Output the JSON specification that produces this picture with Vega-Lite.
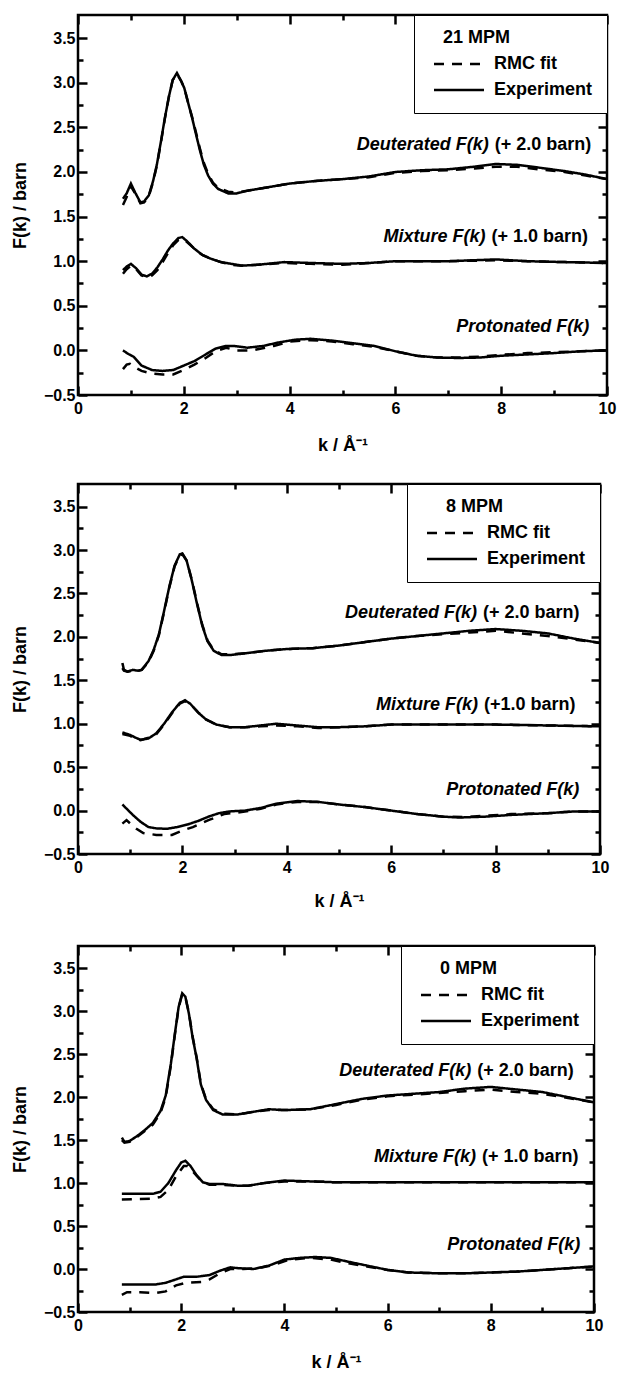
{
"$schema":"https://vega.github.io/schema/vega-lite/v6.json",
"padding":{"left":10,"top":12,"right":9,"bottom":0},
"config":{
 "font":"Liberation Sans",
 "view":{"stroke":"black","strokeWidth":2.5},
 "axis":{"labelFont":"Liberation Sans","labelFontWeight":"bold","labelFontSize":16,"labelColor":"black","titleFont":"Liberation Sans","titleFontWeight":"bold","titleFontSize":18,"titleColor":"black","grid":false,"domain":false,"tickColor":"black","tickWidth":2.5,"labelFlush":false,"labelOverlap":false},
 "legend":{"orient":"top-right","offset":0,"strokeColor":"black","fillColor":"white","padding":14,"titleFont":"Liberation Sans","titleFontSize":18,"titleFontWeight":"bold","titleColor":"black","titleAnchor":"middle","titleAlign":"right","titlePadding":8,"labelFont":"Liberation Sans","labelFontSize":18,"labelFontWeight":"bold","labelColor":"black","symbolType":"M-0.6,0H9.4","symbolStrokeWidth":2.5,"symbolSize":100,"symbolStrokeColor":"black","rowPadding":8,"labelOffset":48,"labelLimit":300,"titleLimit":300},
 "line":{"color":"black","strokeWidth":2.5},
 "text":{"font":"Liberation Sans","fontWeight":"bold","fontSize":18,"color":"black"}
},
"datasets":{
"labels":[
{"p":21,"k":7.82,"F":2.30,"it":"Deuterated F(k)","up":"(+ 2.0 barn)"},
{"p":21,"k":7.76,"F":1.27,"it":"Mixture F(k)","up":"(+ 1.0 barn)"},
{"p":21,"k":9.72,"F":0.26,"it":"Protonated F(k)","up":""},
{"p":8,"k":7.70,"F":2.28,"it":"Deuterated F(k)","up":"(+ 2.0 barn)"},
{"p":8,"k":7.72,"F":1.22,"it":"Mixture F(k)","up":"(+1.0 barn)"},
{"p":8,"k":9.66,"F":0.24,"it":"Protonated F(k)","up":""},
{"p":0,"k":7.68,"F":2.31,"it":"Deuterated F(k)","up":"(+ 2.0 barn)"},
{"p":0,"k":7.77,"F":1.30,"it":"Mixture F(k)","up":"(+ 1.0 barn)"},
{"p":0,"k":9.79,"F":0.28,"it":"Protonated F(k)","up":""}
],
"curves":[
{"p":21,"s":"D","t":"Experiment","k":0.85,"F":1.70},{"p":21,"s":"D","t":"Experiment","k":0.92,"F":1.76},{"p":21,"s":"D","t":"Experiment","k":1.00,"F":1.87},{"p":21,"s":"D","t":"Experiment","k":1.08,"F":1.77},{"p":21,"s":"D","t":"Experiment","k":1.18,"F":1.66},{"p":21,"s":"D","t":"Experiment","k":1.25,"F":1.67},{"p":21,"s":"D","t":"Experiment","k":1.34,"F":1.74},{"p":21,"s":"D","t":"Experiment","k":1.42,"F":1.90},{"p":21,"s":"D","t":"Experiment","k":1.49,"F":2.08},{"p":21,"s":"D","t":"Experiment","k":1.57,"F":2.35},{"p":21,"s":"D","t":"Experiment","k":1.64,"F":2.60},{"p":21,"s":"D","t":"Experiment","k":1.72,"F":2.85},{"p":21,"s":"D","t":"Experiment","k":1.79,"F":3.03},{"p":21,"s":"D","t":"Experiment","k":1.87,"F":3.11},{"p":21,"s":"D","t":"Experiment","k":1.95,"F":3.02},{"p":21,"s":"D","t":"Experiment","k":2.01,"F":2.94},{"p":21,"s":"D","t":"Experiment","k":2.08,"F":2.78},{"p":21,"s":"D","t":"Experiment","k":2.16,"F":2.60},{"p":21,"s":"D","t":"Experiment","k":2.24,"F":2.40},{"p":21,"s":"D","t":"Experiment","k":2.31,"F":2.23},{"p":21,"s":"D","t":"Experiment","k":2.38,"F":2.08},{"p":21,"s":"D","t":"Experiment","k":2.46,"F":1.96},{"p":21,"s":"D","t":"Experiment","k":2.55,"F":1.87},{"p":21,"s":"D","t":"Experiment","k":2.65,"F":1.81},{"p":21,"s":"D","t":"Experiment","k":2.84,"F":1.76},{"p":21,"s":"D","t":"Experiment","k":3.00,"F":1.76},{"p":21,"s":"D","t":"Experiment","k":3.20,"F":1.79},{"p":21,"s":"D","t":"Experiment","k":3.60,"F":1.83},{"p":21,"s":"D","t":"Experiment","k":4.00,"F":1.87},{"p":21,"s":"D","t":"Experiment","k":4.50,"F":1.90},{"p":21,"s":"D","t":"Experiment","k":5.00,"F":1.92},{"p":21,"s":"D","t":"Experiment","k":5.50,"F":1.95},{"p":21,"s":"D","t":"Experiment","k":6.00,"F":2.00},{"p":21,"s":"D","t":"Experiment","k":6.50,"F":2.02},{"p":21,"s":"D","t":"Experiment","k":7.00,"F":2.03},{"p":21,"s":"D","t":"Experiment","k":7.50,"F":2.06},{"p":21,"s":"D","t":"Experiment","k":7.90,"F":2.09},{"p":21,"s":"D","t":"Experiment","k":8.30,"F":2.08},{"p":21,"s":"D","t":"Experiment","k":8.70,"F":2.05},{"p":21,"s":"D","t":"Experiment","k":9.20,"F":2.01},{"p":21,"s":"D","t":"Experiment","k":9.60,"F":1.97},{"p":21,"s":"D","t":"Experiment","k":10.00,"F":1.92},
{"p":21,"s":"D","t":"RMC fit","k":0.85,"F":1.63},{"p":21,"s":"D","t":"RMC fit","k":0.92,"F":1.72},{"p":21,"s":"D","t":"RMC fit","k":1.00,"F":1.84},{"p":21,"s":"D","t":"RMC fit","k":1.08,"F":1.76},{"p":21,"s":"D","t":"RMC fit","k":1.18,"F":1.65},{"p":21,"s":"D","t":"RMC fit","k":1.25,"F":1.66},{"p":21,"s":"D","t":"RMC fit","k":1.34,"F":1.73},{"p":21,"s":"D","t":"RMC fit","k":1.42,"F":1.89},{"p":21,"s":"D","t":"RMC fit","k":1.49,"F":2.07},{"p":21,"s":"D","t":"RMC fit","k":1.57,"F":2.34},{"p":21,"s":"D","t":"RMC fit","k":1.64,"F":2.59},{"p":21,"s":"D","t":"RMC fit","k":1.72,"F":2.85},{"p":21,"s":"D","t":"RMC fit","k":1.79,"F":3.03},{"p":21,"s":"D","t":"RMC fit","k":1.87,"F":3.10},{"p":21,"s":"D","t":"RMC fit","k":1.95,"F":3.02},{"p":21,"s":"D","t":"RMC fit","k":2.01,"F":2.94},{"p":21,"s":"D","t":"RMC fit","k":2.08,"F":2.78},{"p":21,"s":"D","t":"RMC fit","k":2.16,"F":2.61},{"p":21,"s":"D","t":"RMC fit","k":2.24,"F":2.42},{"p":21,"s":"D","t":"RMC fit","k":2.31,"F":2.25},{"p":21,"s":"D","t":"RMC fit","k":2.38,"F":2.10},{"p":21,"s":"D","t":"RMC fit","k":2.46,"F":1.98},{"p":21,"s":"D","t":"RMC fit","k":2.55,"F":1.88},{"p":21,"s":"D","t":"RMC fit","k":2.65,"F":1.82},{"p":21,"s":"D","t":"RMC fit","k":2.84,"F":1.78},{"p":21,"s":"D","t":"RMC fit","k":3.00,"F":1.77},{"p":21,"s":"D","t":"RMC fit","k":3.20,"F":1.79},{"p":21,"s":"D","t":"RMC fit","k":3.60,"F":1.83},{"p":21,"s":"D","t":"RMC fit","k":4.00,"F":1.87},{"p":21,"s":"D","t":"RMC fit","k":4.50,"F":1.90},{"p":21,"s":"D","t":"RMC fit","k":5.00,"F":1.92},{"p":21,"s":"D","t":"RMC fit","k":5.50,"F":1.94},{"p":21,"s":"D","t":"RMC fit","k":6.00,"F":1.99},{"p":21,"s":"D","t":"RMC fit","k":6.50,"F":2.01},{"p":21,"s":"D","t":"RMC fit","k":7.00,"F":2.02},{"p":21,"s":"D","t":"RMC fit","k":7.50,"F":2.04},{"p":21,"s":"D","t":"RMC fit","k":7.90,"F":2.06},{"p":21,"s":"D","t":"RMC fit","k":8.30,"F":2.06},{"p":21,"s":"D","t":"RMC fit","k":8.70,"F":2.03},{"p":21,"s":"D","t":"RMC fit","k":9.20,"F":2.00},{"p":21,"s":"D","t":"RMC fit","k":9.60,"F":1.96},{"p":21,"s":"D","t":"RMC fit","k":10.00,"F":1.92},
{"p":21,"s":"M","t":"Experiment","k":0.85,"F":0.90},{"p":21,"s":"M","t":"Experiment","k":0.92,"F":0.94},{"p":21,"s":"M","t":"Experiment","k":1.00,"F":0.97},{"p":21,"s":"M","t":"Experiment","k":1.10,"F":0.92},{"p":21,"s":"M","t":"Experiment","k":1.20,"F":0.85},{"p":21,"s":"M","t":"Experiment","k":1.30,"F":0.83},{"p":21,"s":"M","t":"Experiment","k":1.40,"F":0.86},{"p":21,"s":"M","t":"Experiment","k":1.50,"F":0.93},{"p":21,"s":"M","t":"Experiment","k":1.60,"F":1.02},{"p":21,"s":"M","t":"Experiment","k":1.70,"F":1.12},{"p":21,"s":"M","t":"Experiment","k":1.80,"F":1.20},{"p":21,"s":"M","t":"Experiment","k":1.90,"F":1.26},{"p":21,"s":"M","t":"Experiment","k":1.97,"F":1.27},{"p":21,"s":"M","t":"Experiment","k":2.05,"F":1.23},{"p":21,"s":"M","t":"Experiment","k":2.20,"F":1.14},{"p":21,"s":"M","t":"Experiment","k":2.35,"F":1.07},{"p":21,"s":"M","t":"Experiment","k":2.50,"F":1.03},{"p":21,"s":"M","t":"Experiment","k":2.70,"F":0.99},{"p":21,"s":"M","t":"Experiment","k":2.90,"F":0.97},{"p":21,"s":"M","t":"Experiment","k":3.10,"F":0.95},{"p":21,"s":"M","t":"Experiment","k":3.40,"F":0.96},{"p":21,"s":"M","t":"Experiment","k":3.90,"F":0.99},{"p":21,"s":"M","t":"Experiment","k":4.40,"F":0.98},{"p":21,"s":"M","t":"Experiment","k":5.00,"F":0.97},{"p":21,"s":"M","t":"Experiment","k":5.50,"F":0.98},{"p":21,"s":"M","t":"Experiment","k":6.00,"F":1.00},{"p":21,"s":"M","t":"Experiment","k":7.00,"F":1.00},{"p":21,"s":"M","t":"Experiment","k":7.90,"F":1.02},{"p":21,"s":"M","t":"Experiment","k":8.50,"F":1.00},{"p":21,"s":"M","t":"Experiment","k":9.20,"F":0.99},{"p":21,"s":"M","t":"Experiment","k":10.00,"F":0.98},
{"p":21,"s":"M","t":"RMC fit","k":0.85,"F":0.86},{"p":21,"s":"M","t":"RMC fit","k":0.92,"F":0.91},{"p":21,"s":"M","t":"RMC fit","k":1.00,"F":0.95},{"p":21,"s":"M","t":"RMC fit","k":1.10,"F":0.91},{"p":21,"s":"M","t":"RMC fit","k":1.20,"F":0.84},{"p":21,"s":"M","t":"RMC fit","k":1.30,"F":0.82},{"p":21,"s":"M","t":"RMC fit","k":1.40,"F":0.84},{"p":21,"s":"M","t":"RMC fit","k":1.50,"F":0.90},{"p":21,"s":"M","t":"RMC fit","k":1.60,"F":0.99},{"p":21,"s":"M","t":"RMC fit","k":1.70,"F":1.09},{"p":21,"s":"M","t":"RMC fit","k":1.80,"F":1.18},{"p":21,"s":"M","t":"RMC fit","k":1.90,"F":1.24},{"p":21,"s":"M","t":"RMC fit","k":1.97,"F":1.25},{"p":21,"s":"M","t":"RMC fit","k":2.05,"F":1.22},{"p":21,"s":"M","t":"RMC fit","k":2.20,"F":1.14},{"p":21,"s":"M","t":"RMC fit","k":2.35,"F":1.07},{"p":21,"s":"M","t":"RMC fit","k":2.50,"F":1.03},{"p":21,"s":"M","t":"RMC fit","k":2.70,"F":0.99},{"p":21,"s":"M","t":"RMC fit","k":2.90,"F":0.96},{"p":21,"s":"M","t":"RMC fit","k":3.10,"F":0.95},{"p":21,"s":"M","t":"RMC fit","k":3.40,"F":0.96},{"p":21,"s":"M","t":"RMC fit","k":3.90,"F":0.98},{"p":21,"s":"M","t":"RMC fit","k":4.40,"F":0.97},{"p":21,"s":"M","t":"RMC fit","k":5.00,"F":0.96},{"p":21,"s":"M","t":"RMC fit","k":5.50,"F":0.98},{"p":21,"s":"M","t":"RMC fit","k":6.00,"F":1.00},{"p":21,"s":"M","t":"RMC fit","k":7.00,"F":1.00},{"p":21,"s":"M","t":"RMC fit","k":7.90,"F":1.01},{"p":21,"s":"M","t":"RMC fit","k":8.50,"F":1.00},{"p":21,"s":"M","t":"RMC fit","k":9.20,"F":0.99},{"p":21,"s":"M","t":"RMC fit","k":10.00,"F":0.98},
{"p":21,"s":"P","t":"Experiment","k":0.85,"F":0.00},{"p":21,"s":"P","t":"Experiment","k":0.95,"F":-0.04},{"p":21,"s":"P","t":"Experiment","k":1.05,"F":-0.07},{"p":21,"s":"P","t":"Experiment","k":1.20,"F":-0.17},{"p":21,"s":"P","t":"Experiment","k":1.40,"F":-0.22},{"p":21,"s":"P","t":"Experiment","k":1.60,"F":-0.23},{"p":21,"s":"P","t":"Experiment","k":1.80,"F":-0.22},{"p":21,"s":"P","t":"Experiment","k":2.00,"F":-0.17},{"p":21,"s":"P","t":"Experiment","k":2.20,"F":-0.12},{"p":21,"s":"P","t":"Experiment","k":2.40,"F":-0.05},{"p":21,"s":"P","t":"Experiment","k":2.60,"F":0.02},{"p":21,"s":"P","t":"Experiment","k":2.80,"F":0.05},{"p":21,"s":"P","t":"Experiment","k":2.95,"F":0.05},{"p":21,"s":"P","t":"Experiment","k":3.20,"F":0.03},{"p":21,"s":"P","t":"Experiment","k":3.50,"F":0.05},{"p":21,"s":"P","t":"Experiment","k":3.80,"F":0.09},{"p":21,"s":"P","t":"Experiment","k":4.10,"F":0.12},{"p":21,"s":"P","t":"Experiment","k":4.40,"F":0.13},{"p":21,"s":"P","t":"Experiment","k":4.80,"F":0.11},{"p":21,"s":"P","t":"Experiment","k":5.20,"F":0.08},{"p":21,"s":"P","t":"Experiment","k":5.60,"F":0.05},{"p":21,"s":"P","t":"Experiment","k":6.00,"F":-0.01},{"p":21,"s":"P","t":"Experiment","k":6.40,"F":-0.06},{"p":21,"s":"P","t":"Experiment","k":6.80,"F":-0.08},{"p":21,"s":"P","t":"Experiment","k":7.20,"F":-0.085},{"p":21,"s":"P","t":"Experiment","k":7.60,"F":-0.08},{"p":21,"s":"P","t":"Experiment","k":8.00,"F":-0.06},{"p":21,"s":"P","t":"Experiment","k":8.50,"F":-0.045},{"p":21,"s":"P","t":"Experiment","k":9.00,"F":-0.03},{"p":21,"s":"P","t":"Experiment","k":9.50,"F":-0.01},{"p":21,"s":"P","t":"Experiment","k":10.00,"F":0.00},
{"p":21,"s":"P","t":"RMC fit","k":0.85,"F":-0.21},{"p":21,"s":"P","t":"RMC fit","k":0.92,"F":-0.16},{"p":21,"s":"P","t":"RMC fit","k":0.98,"F":-0.15},{"p":21,"s":"P","t":"RMC fit","k":1.05,"F":-0.18},{"p":21,"s":"P","t":"RMC fit","k":1.20,"F":-0.23},{"p":21,"s":"P","t":"RMC fit","k":1.40,"F":-0.26},{"p":21,"s":"P","t":"RMC fit","k":1.60,"F":-0.27},{"p":21,"s":"P","t":"RMC fit","k":1.80,"F":-0.27},{"p":21,"s":"P","t":"RMC fit","k":2.00,"F":-0.22},{"p":21,"s":"P","t":"RMC fit","k":2.20,"F":-0.16},{"p":21,"s":"P","t":"RMC fit","k":2.40,"F":-0.09},{"p":21,"s":"P","t":"RMC fit","k":2.60,"F":-0.01},{"p":21,"s":"P","t":"RMC fit","k":2.80,"F":0.03},{"p":21,"s":"P","t":"RMC fit","k":3.00,"F":0.00},{"p":21,"s":"P","t":"RMC fit","k":3.30,"F":0.00},{"p":21,"s":"P","t":"RMC fit","k":3.70,"F":0.05},{"p":21,"s":"P","t":"RMC fit","k":4.00,"F":0.10},{"p":21,"s":"P","t":"RMC fit","k":4.40,"F":0.115},{"p":21,"s":"P","t":"RMC fit","k":4.80,"F":0.10},{"p":21,"s":"P","t":"RMC fit","k":5.20,"F":0.07},{"p":21,"s":"P","t":"RMC fit","k":5.60,"F":0.04},{"p":21,"s":"P","t":"RMC fit","k":6.00,"F":-0.01},{"p":21,"s":"P","t":"RMC fit","k":6.40,"F":-0.06},{"p":21,"s":"P","t":"RMC fit","k":6.80,"F":-0.08},{"p":21,"s":"P","t":"RMC fit","k":7.20,"F":-0.08},{"p":21,"s":"P","t":"RMC fit","k":7.60,"F":-0.07},{"p":21,"s":"P","t":"RMC fit","k":8.00,"F":-0.05},{"p":21,"s":"P","t":"RMC fit","k":8.50,"F":-0.03},{"p":21,"s":"P","t":"RMC fit","k":9.00,"F":-0.02},{"p":21,"s":"P","t":"RMC fit","k":9.50,"F":-0.01},{"p":21,"s":"P","t":"RMC fit","k":10.00,"F":0.00},
{"p":8,"s":"D","t":"Experiment","k":0.85,"F":1.70},{"p":8,"s":"D","t":"Experiment","k":0.88,"F":1.62},{"p":8,"s":"D","t":"Experiment","k":0.95,"F":1.60},{"p":8,"s":"D","t":"Experiment","k":1.05,"F":1.62},{"p":8,"s":"D","t":"Experiment","k":1.15,"F":1.61},{"p":8,"s":"D","t":"Experiment","k":1.22,"F":1.62},{"p":8,"s":"D","t":"Experiment","k":1.35,"F":1.72},{"p":8,"s":"D","t":"Experiment","k":1.45,"F":1.85},{"p":8,"s":"D","t":"Experiment","k":1.55,"F":2.03},{"p":8,"s":"D","t":"Experiment","k":1.65,"F":2.30},{"p":8,"s":"D","t":"Experiment","k":1.75,"F":2.58},{"p":8,"s":"D","t":"Experiment","k":1.85,"F":2.82},{"p":8,"s":"D","t":"Experiment","k":1.95,"F":2.95},{"p":8,"s":"D","t":"Experiment","k":2.00,"F":2.96},{"p":8,"s":"D","t":"Experiment","k":2.08,"F":2.88},{"p":8,"s":"D","t":"Experiment","k":2.18,"F":2.65},{"p":8,"s":"D","t":"Experiment","k":2.28,"F":2.38},{"p":8,"s":"D","t":"Experiment","k":2.38,"F":2.13},{"p":8,"s":"D","t":"Experiment","k":2.48,"F":1.95},{"p":8,"s":"D","t":"Experiment","k":2.60,"F":1.84},{"p":8,"s":"D","t":"Experiment","k":2.75,"F":1.79},{"p":8,"s":"D","t":"Experiment","k":2.90,"F":1.79},{"p":8,"s":"D","t":"Experiment","k":3.20,"F":1.81},{"p":8,"s":"D","t":"Experiment","k":3.60,"F":1.84},{"p":8,"s":"D","t":"Experiment","k":4.00,"F":1.86},{"p":8,"s":"D","t":"Experiment","k":4.50,"F":1.87},{"p":8,"s":"D","t":"Experiment","k":5.00,"F":1.90},{"p":8,"s":"D","t":"Experiment","k":5.50,"F":1.94},{"p":8,"s":"D","t":"Experiment","k":6.00,"F":1.98},{"p":8,"s":"D","t":"Experiment","k":6.50,"F":2.01},{"p":8,"s":"D","t":"Experiment","k":7.00,"F":2.04},{"p":8,"s":"D","t":"Experiment","k":7.50,"F":2.07},{"p":8,"s":"D","t":"Experiment","k":8.00,"F":2.09},{"p":8,"s":"D","t":"Experiment","k":8.50,"F":2.07},{"p":8,"s":"D","t":"Experiment","k":9.00,"F":2.04},{"p":8,"s":"D","t":"Experiment","k":9.50,"F":1.98},{"p":8,"s":"D","t":"Experiment","k":10.00,"F":1.93},
{"p":8,"s":"D","t":"RMC fit","k":0.85,"F":1.64},{"p":8,"s":"D","t":"RMC fit","k":0.88,"F":1.61},{"p":8,"s":"D","t":"RMC fit","k":0.95,"F":1.60},{"p":8,"s":"D","t":"RMC fit","k":1.05,"F":1.61},{"p":8,"s":"D","t":"RMC fit","k":1.15,"F":1.61},{"p":8,"s":"D","t":"RMC fit","k":1.22,"F":1.62},{"p":8,"s":"D","t":"RMC fit","k":1.35,"F":1.71},{"p":8,"s":"D","t":"RMC fit","k":1.45,"F":1.84},{"p":8,"s":"D","t":"RMC fit","k":1.55,"F":2.02},{"p":8,"s":"D","t":"RMC fit","k":1.65,"F":2.29},{"p":8,"s":"D","t":"RMC fit","k":1.75,"F":2.57},{"p":8,"s":"D","t":"RMC fit","k":1.85,"F":2.81},{"p":8,"s":"D","t":"RMC fit","k":1.95,"F":2.94},{"p":8,"s":"D","t":"RMC fit","k":2.00,"F":2.95},{"p":8,"s":"D","t":"RMC fit","k":2.08,"F":2.88},{"p":8,"s":"D","t":"RMC fit","k":2.18,"F":2.66},{"p":8,"s":"D","t":"RMC fit","k":2.28,"F":2.39},{"p":8,"s":"D","t":"RMC fit","k":2.38,"F":2.14},{"p":8,"s":"D","t":"RMC fit","k":2.48,"F":1.96},{"p":8,"s":"D","t":"RMC fit","k":2.60,"F":1.85},{"p":8,"s":"D","t":"RMC fit","k":2.75,"F":1.80},{"p":8,"s":"D","t":"RMC fit","k":2.90,"F":1.80},{"p":8,"s":"D","t":"RMC fit","k":3.20,"F":1.81},{"p":8,"s":"D","t":"RMC fit","k":3.60,"F":1.84},{"p":8,"s":"D","t":"RMC fit","k":4.00,"F":1.86},{"p":8,"s":"D","t":"RMC fit","k":4.50,"F":1.87},{"p":8,"s":"D","t":"RMC fit","k":5.00,"F":1.90},{"p":8,"s":"D","t":"RMC fit","k":5.50,"F":1.94},{"p":8,"s":"D","t":"RMC fit","k":6.00,"F":1.98},{"p":8,"s":"D","t":"RMC fit","k":6.50,"F":2.01},{"p":8,"s":"D","t":"RMC fit","k":7.00,"F":2.03},{"p":8,"s":"D","t":"RMC fit","k":7.50,"F":2.05},{"p":8,"s":"D","t":"RMC fit","k":8.00,"F":2.07},{"p":8,"s":"D","t":"RMC fit","k":8.50,"F":2.04},{"p":8,"s":"D","t":"RMC fit","k":9.00,"F":2.01},{"p":8,"s":"D","t":"RMC fit","k":9.50,"F":1.97},{"p":8,"s":"D","t":"RMC fit","k":10.00,"F":1.93},
{"p":8,"s":"M","t":"Experiment","k":0.85,"F":0.90},{"p":8,"s":"M","t":"Experiment","k":1.00,"F":0.87},{"p":8,"s":"M","t":"Experiment","k":1.10,"F":0.84},{"p":8,"s":"M","t":"Experiment","k":1.20,"F":0.815},{"p":8,"s":"M","t":"Experiment","k":1.35,"F":0.83},{"p":8,"s":"M","t":"Experiment","k":1.50,"F":0.89},{"p":8,"s":"M","t":"Experiment","k":1.65,"F":1.00},{"p":8,"s":"M","t":"Experiment","k":1.80,"F":1.13},{"p":8,"s":"M","t":"Experiment","k":1.95,"F":1.24},{"p":8,"s":"M","t":"Experiment","k":2.05,"F":1.27},{"p":8,"s":"M","t":"Experiment","k":2.15,"F":1.23},{"p":8,"s":"M","t":"Experiment","k":2.30,"F":1.13},{"p":8,"s":"M","t":"Experiment","k":2.45,"F":1.05},{"p":8,"s":"M","t":"Experiment","k":2.65,"F":0.99},{"p":8,"s":"M","t":"Experiment","k":2.90,"F":0.96},{"p":8,"s":"M","t":"Experiment","k":3.20,"F":0.96},{"p":8,"s":"M","t":"Experiment","k":3.50,"F":0.98},{"p":8,"s":"M","t":"Experiment","k":3.80,"F":1.00},{"p":8,"s":"M","t":"Experiment","k":4.20,"F":0.98},{"p":8,"s":"M","t":"Experiment","k":4.60,"F":0.96},{"p":8,"s":"M","t":"Experiment","k":5.00,"F":0.96},{"p":8,"s":"M","t":"Experiment","k":5.50,"F":0.97},{"p":8,"s":"M","t":"Experiment","k":6.00,"F":0.99},{"p":8,"s":"M","t":"Experiment","k":7.00,"F":0.99},{"p":8,"s":"M","t":"Experiment","k":8.00,"F":0.99},{"p":8,"s":"M","t":"Experiment","k":9.00,"F":0.98},{"p":8,"s":"M","t":"Experiment","k":10.00,"F":0.97},
{"p":8,"s":"M","t":"RMC fit","k":0.85,"F":0.88},{"p":8,"s":"M","t":"RMC fit","k":1.00,"F":0.86},{"p":8,"s":"M","t":"RMC fit","k":1.10,"F":0.83},{"p":8,"s":"M","t":"RMC fit","k":1.20,"F":0.81},{"p":8,"s":"M","t":"RMC fit","k":1.35,"F":0.84},{"p":8,"s":"M","t":"RMC fit","k":1.50,"F":0.88},{"p":8,"s":"M","t":"RMC fit","k":1.65,"F":0.99},{"p":8,"s":"M","t":"RMC fit","k":1.80,"F":1.12},{"p":8,"s":"M","t":"RMC fit","k":1.95,"F":1.23},{"p":8,"s":"M","t":"RMC fit","k":2.05,"F":1.26},{"p":8,"s":"M","t":"RMC fit","k":2.15,"F":1.23},{"p":8,"s":"M","t":"RMC fit","k":2.30,"F":1.13},{"p":8,"s":"M","t":"RMC fit","k":2.45,"F":1.05},{"p":8,"s":"M","t":"RMC fit","k":2.65,"F":0.99},{"p":8,"s":"M","t":"RMC fit","k":2.90,"F":0.96},{"p":8,"s":"M","t":"RMC fit","k":3.20,"F":0.96},{"p":8,"s":"M","t":"RMC fit","k":3.50,"F":0.97},{"p":8,"s":"M","t":"RMC fit","k":3.80,"F":0.98},{"p":8,"s":"M","t":"RMC fit","k":4.20,"F":0.97},{"p":8,"s":"M","t":"RMC fit","k":4.60,"F":0.95},{"p":8,"s":"M","t":"RMC fit","k":5.00,"F":0.96},{"p":8,"s":"M","t":"RMC fit","k":5.50,"F":0.97},{"p":8,"s":"M","t":"RMC fit","k":6.00,"F":0.99},{"p":8,"s":"M","t":"RMC fit","k":7.00,"F":0.99},{"p":8,"s":"M","t":"RMC fit","k":8.00,"F":0.99},{"p":8,"s":"M","t":"RMC fit","k":9.00,"F":0.98},{"p":8,"s":"M","t":"RMC fit","k":10.00,"F":0.97},
{"p":8,"s":"P","t":"Experiment","k":0.85,"F":0.07},{"p":8,"s":"P","t":"Experiment","k":0.95,"F":0.01},{"p":8,"s":"P","t":"Experiment","k":1.05,"F":-0.05},{"p":8,"s":"P","t":"Experiment","k":1.20,"F":-0.13},{"p":8,"s":"P","t":"Experiment","k":1.35,"F":-0.19},{"p":8,"s":"P","t":"Experiment","k":1.50,"F":-0.205},{"p":8,"s":"P","t":"Experiment","k":1.70,"F":-0.21},{"p":8,"s":"P","t":"Experiment","k":1.90,"F":-0.19},{"p":8,"s":"P","t":"Experiment","k":2.10,"F":-0.16},{"p":8,"s":"P","t":"Experiment","k":2.30,"F":-0.12},{"p":8,"s":"P","t":"Experiment","k":2.50,"F":-0.07},{"p":8,"s":"P","t":"Experiment","k":2.70,"F":-0.03},{"p":8,"s":"P","t":"Experiment","k":2.90,"F":-0.01},{"p":8,"s":"P","t":"Experiment","k":3.20,"F":0.00},{"p":8,"s":"P","t":"Experiment","k":3.50,"F":0.03},{"p":8,"s":"P","t":"Experiment","k":3.80,"F":0.08},{"p":8,"s":"P","t":"Experiment","k":4.20,"F":0.11},{"p":8,"s":"P","t":"Experiment","k":4.60,"F":0.10},{"p":8,"s":"P","t":"Experiment","k":5.00,"F":0.07},{"p":8,"s":"P","t":"Experiment","k":5.50,"F":0.04},{"p":8,"s":"P","t":"Experiment","k":6.00,"F":0.00},{"p":8,"s":"P","t":"Experiment","k":6.50,"F":-0.04},{"p":8,"s":"P","t":"Experiment","k":7.00,"F":-0.07},{"p":8,"s":"P","t":"Experiment","k":7.30,"F":-0.08},{"p":8,"s":"P","t":"Experiment","k":7.80,"F":-0.07},{"p":8,"s":"P","t":"Experiment","k":8.30,"F":-0.05},{"p":8,"s":"P","t":"Experiment","k":9.00,"F":-0.03},{"p":8,"s":"P","t":"Experiment","k":9.50,"F":-0.01},{"p":8,"s":"P","t":"Experiment","k":10.00,"F":-0.01},
{"p":8,"s":"P","t":"RMC fit","k":0.85,"F":-0.15},{"p":8,"s":"P","t":"RMC fit","k":0.93,"F":-0.11},{"p":8,"s":"P","t":"RMC fit","k":1.02,"F":-0.16},{"p":8,"s":"P","t":"RMC fit","k":1.12,"F":-0.21},{"p":8,"s":"P","t":"RMC fit","k":1.25,"F":-0.26},{"p":8,"s":"P","t":"RMC fit","k":1.50,"F":-0.28},{"p":8,"s":"P","t":"RMC fit","k":1.80,"F":-0.28},{"p":8,"s":"P","t":"RMC fit","k":2.00,"F":-0.23},{"p":8,"s":"P","t":"RMC fit","k":2.20,"F":-0.19},{"p":8,"s":"P","t":"RMC fit","k":2.50,"F":-0.11},{"p":8,"s":"P","t":"RMC fit","k":2.80,"F":-0.04},{"p":8,"s":"P","t":"RMC fit","k":3.10,"F":-0.02},{"p":8,"s":"P","t":"RMC fit","k":3.50,"F":0.02},{"p":8,"s":"P","t":"RMC fit","k":3.80,"F":0.07},{"p":8,"s":"P","t":"RMC fit","k":4.20,"F":0.10},{"p":8,"s":"P","t":"RMC fit","k":4.60,"F":0.10},{"p":8,"s":"P","t":"RMC fit","k":5.00,"F":0.07},{"p":8,"s":"P","t":"RMC fit","k":5.50,"F":0.04},{"p":8,"s":"P","t":"RMC fit","k":6.00,"F":0.00},{"p":8,"s":"P","t":"RMC fit","k":6.50,"F":-0.04},{"p":8,"s":"P","t":"RMC fit","k":7.00,"F":-0.07},{"p":8,"s":"P","t":"RMC fit","k":7.40,"F":-0.075},{"p":8,"s":"P","t":"RMC fit","k":7.80,"F":-0.06},{"p":8,"s":"P","t":"RMC fit","k":8.30,"F":-0.04},{"p":8,"s":"P","t":"RMC fit","k":9.00,"F":-0.03},{"p":8,"s":"P","t":"RMC fit","k":9.50,"F":-0.01},{"p":8,"s":"P","t":"RMC fit","k":10.00,"F":-0.01},
{"p":0,"s":"D","t":"Experiment","k":0.85,"F":1.53},{"p":0,"s":"D","t":"Experiment","k":0.90,"F":1.48},{"p":0,"s":"D","t":"Experiment","k":1.00,"F":1.49},{"p":0,"s":"D","t":"Experiment","k":1.15,"F":1.55},{"p":0,"s":"D","t":"Experiment","k":1.30,"F":1.62},{"p":0,"s":"D","t":"Experiment","k":1.45,"F":1.70},{"p":0,"s":"D","t":"Experiment","k":1.60,"F":1.84},{"p":0,"s":"D","t":"Experiment","k":1.70,"F":2.02},{"p":0,"s":"D","t":"Experiment","k":1.80,"F":2.39},{"p":0,"s":"D","t":"Experiment","k":1.88,"F":2.75},{"p":0,"s":"D","t":"Experiment","k":1.95,"F":3.05},{"p":0,"s":"D","t":"Experiment","k":2.02,"F":3.21},{"p":0,"s":"D","t":"Experiment","k":2.08,"F":3.17},{"p":0,"s":"D","t":"Experiment","k":2.15,"F":2.97},{"p":0,"s":"D","t":"Experiment","k":2.22,"F":2.70},{"p":0,"s":"D","t":"Experiment","k":2.30,"F":2.45},{"p":0,"s":"D","t":"Experiment","k":2.38,"F":2.15},{"p":0,"s":"D","t":"Experiment","k":2.48,"F":1.97},{"p":0,"s":"D","t":"Experiment","k":2.62,"F":1.85},{"p":0,"s":"D","t":"Experiment","k":2.80,"F":1.80},{"p":0,"s":"D","t":"Experiment","k":3.10,"F":1.80},{"p":0,"s":"D","t":"Experiment","k":3.40,"F":1.83},{"p":0,"s":"D","t":"Experiment","k":3.70,"F":1.86},{"p":0,"s":"D","t":"Experiment","k":4.00,"F":1.85},{"p":0,"s":"D","t":"Experiment","k":4.50,"F":1.86},{"p":0,"s":"D","t":"Experiment","k":5.00,"F":1.92},{"p":0,"s":"D","t":"Experiment","k":5.50,"F":1.98},{"p":0,"s":"D","t":"Experiment","k":6.00,"F":2.02},{"p":0,"s":"D","t":"Experiment","k":6.50,"F":2.04},{"p":0,"s":"D","t":"Experiment","k":7.00,"F":2.06},{"p":0,"s":"D","t":"Experiment","k":7.50,"F":2.10},{"p":0,"s":"D","t":"Experiment","k":8.00,"F":2.12},{"p":0,"s":"D","t":"Experiment","k":8.50,"F":2.09},{"p":0,"s":"D","t":"Experiment","k":9.00,"F":2.06},{"p":0,"s":"D","t":"Experiment","k":9.50,"F":2.00},{"p":0,"s":"D","t":"Experiment","k":10.00,"F":1.94},
{"p":0,"s":"D","t":"RMC fit","k":0.85,"F":1.50},{"p":0,"s":"D","t":"RMC fit","k":0.90,"F":1.47},{"p":0,"s":"D","t":"RMC fit","k":1.00,"F":1.48},{"p":0,"s":"D","t":"RMC fit","k":1.15,"F":1.54},{"p":0,"s":"D","t":"RMC fit","k":1.30,"F":1.61},{"p":0,"s":"D","t":"RMC fit","k":1.45,"F":1.68},{"p":0,"s":"D","t":"RMC fit","k":1.60,"F":1.82},{"p":0,"s":"D","t":"RMC fit","k":1.70,"F":2.00},{"p":0,"s":"D","t":"RMC fit","k":1.80,"F":2.37},{"p":0,"s":"D","t":"RMC fit","k":1.88,"F":2.74},{"p":0,"s":"D","t":"RMC fit","k":1.95,"F":3.04},{"p":0,"s":"D","t":"RMC fit","k":2.02,"F":3.20},{"p":0,"s":"D","t":"RMC fit","k":2.08,"F":3.17},{"p":0,"s":"D","t":"RMC fit","k":2.15,"F":2.98},{"p":0,"s":"D","t":"RMC fit","k":2.22,"F":2.71},{"p":0,"s":"D","t":"RMC fit","k":2.30,"F":2.46},{"p":0,"s":"D","t":"RMC fit","k":2.38,"F":2.16},{"p":0,"s":"D","t":"RMC fit","k":2.48,"F":1.98},{"p":0,"s":"D","t":"RMC fit","k":2.62,"F":1.86},{"p":0,"s":"D","t":"RMC fit","k":2.80,"F":1.81},{"p":0,"s":"D","t":"RMC fit","k":3.10,"F":1.80},{"p":0,"s":"D","t":"RMC fit","k":3.40,"F":1.83},{"p":0,"s":"D","t":"RMC fit","k":3.70,"F":1.85},{"p":0,"s":"D","t":"RMC fit","k":4.00,"F":1.85},{"p":0,"s":"D","t":"RMC fit","k":4.50,"F":1.86},{"p":0,"s":"D","t":"RMC fit","k":5.00,"F":1.91},{"p":0,"s":"D","t":"RMC fit","k":5.50,"F":1.97},{"p":0,"s":"D","t":"RMC fit","k":6.00,"F":2.01},{"p":0,"s":"D","t":"RMC fit","k":6.50,"F":2.03},{"p":0,"s":"D","t":"RMC fit","k":7.00,"F":2.05},{"p":0,"s":"D","t":"RMC fit","k":7.50,"F":2.07},{"p":0,"s":"D","t":"RMC fit","k":8.00,"F":2.09},{"p":0,"s":"D","t":"RMC fit","k":8.50,"F":2.06},{"p":0,"s":"D","t":"RMC fit","k":9.00,"F":2.04},{"p":0,"s":"D","t":"RMC fit","k":9.50,"F":1.99},{"p":0,"s":"D","t":"RMC fit","k":10.00,"F":1.94},
{"p":0,"s":"M","t":"Experiment","k":0.85,"F":0.875},{"p":0,"s":"M","t":"Experiment","k":1.20,"F":0.875},{"p":0,"s":"M","t":"Experiment","k":1.45,"F":0.875},{"p":0,"s":"M","t":"Experiment","k":1.60,"F":0.90},{"p":0,"s":"M","t":"Experiment","k":1.75,"F":1.00},{"p":0,"s":"M","t":"Experiment","k":1.90,"F":1.15},{"p":0,"s":"M","t":"Experiment","k":2.00,"F":1.24},{"p":0,"s":"M","t":"Experiment","k":2.08,"F":1.26},{"p":0,"s":"M","t":"Experiment","k":2.18,"F":1.20},{"p":0,"s":"M","t":"Experiment","k":2.30,"F":1.09},{"p":0,"s":"M","t":"Experiment","k":2.42,"F":1.01},{"p":0,"s":"M","t":"Experiment","k":2.55,"F":0.99},{"p":0,"s":"M","t":"Experiment","k":2.80,"F":0.99},{"p":0,"s":"M","t":"Experiment","k":3.10,"F":0.97},{"p":0,"s":"M","t":"Experiment","k":3.30,"F":0.97},{"p":0,"s":"M","t":"Experiment","k":3.60,"F":1.00},{"p":0,"s":"M","t":"Experiment","k":4.00,"F":1.03},{"p":0,"s":"M","t":"Experiment","k":4.50,"F":1.02},{"p":0,"s":"M","t":"Experiment","k":5.00,"F":1.01},{"p":0,"s":"M","t":"Experiment","k":6.00,"F":1.01},{"p":0,"s":"M","t":"Experiment","k":7.00,"F":1.01},{"p":0,"s":"M","t":"Experiment","k":8.00,"F":1.01},{"p":0,"s":"M","t":"Experiment","k":9.00,"F":1.01},{"p":0,"s":"M","t":"Experiment","k":10.00,"F":1.01},
{"p":0,"s":"M","t":"RMC fit","k":0.85,"F":0.81},{"p":0,"s":"M","t":"RMC fit","k":1.20,"F":0.815},{"p":0,"s":"M","t":"RMC fit","k":1.45,"F":0.82},{"p":0,"s":"M","t":"RMC fit","k":1.60,"F":0.84},{"p":0,"s":"M","t":"RMC fit","k":1.75,"F":0.92},{"p":0,"s":"M","t":"RMC fit","k":1.90,"F":1.08},{"p":0,"s":"M","t":"RMC fit","k":2.05,"F":1.20},{"p":0,"s":"M","t":"RMC fit","k":2.12,"F":1.20},{"p":0,"s":"M","t":"RMC fit","k":2.25,"F":1.12},{"p":0,"s":"M","t":"RMC fit","k":2.40,"F":1.02},{"p":0,"s":"M","t":"RMC fit","k":2.55,"F":0.98},{"p":0,"s":"M","t":"RMC fit","k":2.80,"F":0.98},{"p":0,"s":"M","t":"RMC fit","k":3.10,"F":0.97},{"p":0,"s":"M","t":"RMC fit","k":3.30,"F":0.97},{"p":0,"s":"M","t":"RMC fit","k":3.60,"F":1.00},{"p":0,"s":"M","t":"RMC fit","k":4.00,"F":1.02},{"p":0,"s":"M","t":"RMC fit","k":4.50,"F":1.02},{"p":0,"s":"M","t":"RMC fit","k":5.00,"F":1.01},{"p":0,"s":"M","t":"RMC fit","k":6.00,"F":1.01},{"p":0,"s":"M","t":"RMC fit","k":7.00,"F":1.01},{"p":0,"s":"M","t":"RMC fit","k":8.00,"F":1.01},{"p":0,"s":"M","t":"RMC fit","k":9.00,"F":1.01},{"p":0,"s":"M","t":"RMC fit","k":10.00,"F":1.01},
{"p":0,"s":"P","t":"Experiment","k":0.85,"F":-0.18},{"p":0,"s":"P","t":"Experiment","k":1.50,"F":-0.18},{"p":0,"s":"P","t":"Experiment","k":1.70,"F":-0.16},{"p":0,"s":"P","t":"Experiment","k":1.90,"F":-0.12},{"p":0,"s":"P","t":"Experiment","k":2.05,"F":-0.09},{"p":0,"s":"P","t":"Experiment","k":2.30,"F":-0.09},{"p":0,"s":"P","t":"Experiment","k":2.55,"F":-0.07},{"p":0,"s":"P","t":"Experiment","k":2.75,"F":-0.02},{"p":0,"s":"P","t":"Experiment","k":2.95,"F":0.02},{"p":0,"s":"P","t":"Experiment","k":3.10,"F":0.01},{"p":0,"s":"P","t":"Experiment","k":3.40,"F":0.00},{"p":0,"s":"P","t":"Experiment","k":3.70,"F":0.04},{"p":0,"s":"P","t":"Experiment","k":4.00,"F":0.11},{"p":0,"s":"P","t":"Experiment","k":4.30,"F":0.13},{"p":0,"s":"P","t":"Experiment","k":4.60,"F":0.14},{"p":0,"s":"P","t":"Experiment","k":4.90,"F":0.13},{"p":0,"s":"P","t":"Experiment","k":5.20,"F":0.09},{"p":0,"s":"P","t":"Experiment","k":5.60,"F":0.04},{"p":0,"s":"P","t":"Experiment","k":6.00,"F":-0.01},{"p":0,"s":"P","t":"Experiment","k":6.40,"F":-0.04},{"p":0,"s":"P","t":"Experiment","k":7.00,"F":-0.05},{"p":0,"s":"P","t":"Experiment","k":7.50,"F":-0.05},{"p":0,"s":"P","t":"Experiment","k":8.00,"F":-0.04},{"p":0,"s":"P","t":"Experiment","k":8.50,"F":-0.03},{"p":0,"s":"P","t":"Experiment","k":9.00,"F":-0.01},{"p":0,"s":"P","t":"Experiment","k":9.50,"F":0.01},{"p":0,"s":"P","t":"Experiment","k":10.00,"F":0.03},
{"p":0,"s":"P","t":"RMC fit","k":0.85,"F":-0.30},{"p":0,"s":"P","t":"RMC fit","k":0.95,"F":-0.27},{"p":0,"s":"P","t":"RMC fit","k":1.20,"F":-0.27},{"p":0,"s":"P","t":"RMC fit","k":1.50,"F":-0.28},{"p":0,"s":"P","t":"RMC fit","k":1.70,"F":-0.26},{"p":0,"s":"P","t":"RMC fit","k":1.90,"F":-0.19},{"p":0,"s":"P","t":"RMC fit","k":2.10,"F":-0.16},{"p":0,"s":"P","t":"RMC fit","k":2.40,"F":-0.15},{"p":0,"s":"P","t":"RMC fit","k":2.55,"F":-0.12},{"p":0,"s":"P","t":"RMC fit","k":2.75,"F":-0.05},{"p":0,"s":"P","t":"RMC fit","k":2.95,"F":0.00},{"p":0,"s":"P","t":"RMC fit","k":3.20,"F":0.00},{"p":0,"s":"P","t":"RMC fit","k":3.50,"F":0.01},{"p":0,"s":"P","t":"RMC fit","k":3.80,"F":0.05},{"p":0,"s":"P","t":"RMC fit","k":4.10,"F":0.11},{"p":0,"s":"P","t":"RMC fit","k":4.50,"F":0.13},{"p":0,"s":"P","t":"RMC fit","k":4.90,"F":0.11},{"p":0,"s":"P","t":"RMC fit","k":5.20,"F":0.07},{"p":0,"s":"P","t":"RMC fit","k":5.60,"F":0.03},{"p":0,"s":"P","t":"RMC fit","k":6.00,"F":-0.01},{"p":0,"s":"P","t":"RMC fit","k":6.40,"F":-0.04},{"p":0,"s":"P","t":"RMC fit","k":7.00,"F":-0.05},{"p":0,"s":"P","t":"RMC fit","k":7.50,"F":-0.05},{"p":0,"s":"P","t":"RMC fit","k":8.00,"F":-0.04},{"p":0,"s":"P","t":"RMC fit","k":8.50,"F":-0.03},{"p":0,"s":"P","t":"RMC fit","k":9.00,"F":-0.01},{"p":0,"s":"P","t":"RMC fit","k":9.50,"F":0.01},{"p":0,"s":"P","t":"RMC fit","k":10.00,"F":0.03}
]},
"spacing":31,
"resolve":{"scale":{"strokeDash":"independent"},"legend":{"strokeDash":"independent"}},
"vconcat":[
{"spacing":25,
 "resolve":{"scale":{"strokeDash":"independent"},"legend":{"strokeDash":"independent"}},
 "vconcat":[
{"width":529,"height":380,
 "resolve":{"axis":{"x":"independent","y":"independent"}},
 "layer":[
  {"data":{"name":"curves"},"transform":[{"filter":"datum.p === 21"}],"mark":{"type":"line","clip":true},
   "encoding":{
    "x":{"field":"k","type":"quantitative","scale":{"domain":[0,10],"nice":false},"axis":{"orient":"bottom","values":[0,1,2,3,4,5,6,7,8,9,10],"labelExpr":"datum.value % 2 === 0 ? datum.label : ''","tickSize":{"condition":{"test":"datum.value % 2 === 0","value":-9},"value":-5},"labelPadding":14,"title":"k / Å⁻¹","titlePadding":16}},
    "y":{"field":"F","type":"quantitative","scale":{"domain":[-0.5,3.76],"nice":false,"zero":false},"axis":{"orient":"left","values":[-0.5,-0.25,0,0.25,0.5,0.75,1,1.25,1.5,1.75,2,2.25,2.5,2.75,3,3.25,3.5],"format":".1f","labelExpr":"abs(datum.value*2 - round(datum.value*2)) < 0.001 ? datum.label : ''","tickSize":{"condition":{"test":"abs(datum.value*2 - round(datum.value*2)) < 0.001","value":-9},"value":-5},"labelPadding":12,"title":"F(k) / barn","titlePadding":14}},
    "detail":{"field":"s"},
    "strokeDash":{"field":"t","type":"nominal","scale":{"domain":["RMC fit","Experiment"],"range":[[10,8],[1,0]]},"legend":{"title":"21 MPM"}}
   }},
  {"data":{"name":"curves"},"transform":[{"filter":"datum.p === 21"}],"mark":{"type":"point","opacity":0},
   "encoding":{
    "x":{"field":"k","type":"quantitative","axis":{"orient":"top","values":[0,1,2,3,4,5,6,7,8,9,10],"labels":false,"title":null,"tickSize":{"condition":{"test":"datum.value % 2 === 0","value":-9},"value":-5}}},
    "y":{"field":"F","type":"quantitative","axis":{"orient":"right","values":[-0.5,-0.25,0,0.25,0.5,0.75,1,1.25,1.5,1.75,2,2.25,2.5,2.75,3,3.25,3.5],"labels":false,"title":null,"tickSize":{"condition":{"test":"abs(datum.value*2 - round(datum.value*2)) < 0.001","value":-9},"value":-5}}}
   }},
  {"data":{"name":"labels"},"transform":[{"filter":"datum.p === 21"}],"mark":{"type":"text","align":"right","fontStyle":"italic","dx":-3},
   "encoding":{"x":{"field":"k","type":"quantitative","axis":null},"y":{"field":"F","type":"quantitative","axis":null},"text":{"field":"it"}}},
  {"data":{"name":"labels"},"transform":[{"filter":"datum.p === 21"}],"mark":{"type":"text","align":"left","dx":3},
   "encoding":{"x":{"field":"k","type":"quantitative","axis":null},"y":{"field":"F","type":"quantitative","axis":null},"text":{"field":"up"}}}
 ]},
{"width":522,"height":370,
 "resolve":{"axis":{"x":"independent","y":"independent"}},
 "layer":[
  {"data":{"name":"curves"},"transform":[{"filter":"datum.p === 8"}],"mark":{"type":"line","clip":true},
   "encoding":{
    "x":{"field":"k","type":"quantitative","scale":{"domain":[0,10],"nice":false},"axis":{"orient":"bottom","values":[0,1,2,3,4,5,6,7,8,9,10],"labelExpr":"datum.value % 2 === 0 ? datum.label : ''","tickSize":{"condition":{"test":"datum.value % 2 === 0","value":-9},"value":-5},"labelPadding":14,"title":"k / Å⁻¹","titlePadding":13}},
    "y":{"field":"F","type":"quantitative","scale":{"domain":[-0.5,3.76],"nice":false,"zero":false},"axis":{"orient":"left","values":[-0.5,-0.25,0,0.25,0.5,0.75,1,1.25,1.5,1.75,2,2.25,2.5,2.75,3,3.25,3.5],"format":".1f","labelExpr":"abs(datum.value*2 - round(datum.value*2)) < 0.001 ? datum.label : ''","tickSize":{"condition":{"test":"abs(datum.value*2 - round(datum.value*2)) < 0.001","value":-9},"value":-5},"labelPadding":12,"title":"F(k) / barn","titlePadding":14}},
    "detail":{"field":"s"},
    "strokeDash":{"field":"t","type":"nominal","scale":{"domain":["RMC fit","Experiment"],"range":[[10,8],[1,0]]},"legend":{"title":"8 MPM"}}
   }},
  {"data":{"name":"curves"},"transform":[{"filter":"datum.p === 8"}],"mark":{"type":"point","opacity":0},
   "encoding":{
    "x":{"field":"k","type":"quantitative","axis":{"orient":"top","values":[0,1,2,3,4,5,6,7,8,9,10],"labels":false,"title":null,"tickSize":{"condition":{"test":"datum.value % 2 === 0","value":-9},"value":-5}}},
    "y":{"field":"F","type":"quantitative","axis":{"orient":"right","values":[-0.5,-0.25,0,0.25,0.5,0.75,1,1.25,1.5,1.75,2,2.25,2.5,2.75,3,3.25,3.5],"labels":false,"title":null,"tickSize":{"condition":{"test":"abs(datum.value*2 - round(datum.value*2)) < 0.001","value":-9},"value":-5}}}
   }},
  {"data":{"name":"labels"},"transform":[{"filter":"datum.p === 8"}],"mark":{"type":"text","align":"right","fontStyle":"italic","dx":-3},
   "encoding":{"x":{"field":"k","type":"quantitative","axis":null},"y":{"field":"F","type":"quantitative","axis":null},"text":{"field":"it"}}},
  {"data":{"name":"labels"},"transform":[{"filter":"datum.p === 8"}],"mark":{"type":"text","align":"left","dx":3},
   "encoding":{"x":{"field":"k","type":"quantitative","axis":null},"y":{"field":"F","type":"quantitative","axis":null},"text":{"field":"up"}}}
 ]}
 ]},
{"width":516,"height":366,
 "resolve":{"axis":{"x":"independent","y":"independent"}},
 "layer":[
  {"data":{"name":"curves"},"transform":[{"filter":"datum.p === 0"}],"mark":{"type":"line","clip":true},
   "encoding":{
    "x":{"field":"k","type":"quantitative","scale":{"domain":[0,10],"nice":false},"axis":{"orient":"bottom","values":[0,1,2,3,4,5,6,7,8,9,10],"labelExpr":"datum.value % 2 === 0 ? datum.label : ''","tickSize":{"condition":{"test":"datum.value % 2 === 0","value":-9},"value":-5},"labelPadding":14,"title":"k / Å⁻¹","titlePadding":16}},
    "y":{"field":"F","type":"quantitative","scale":{"domain":[-0.5,3.76],"nice":false,"zero":false},"axis":{"orient":"left","values":[-0.5,-0.25,0,0.25,0.5,0.75,1,1.25,1.5,1.75,2,2.25,2.5,2.75,3,3.25,3.5],"format":".1f","labelExpr":"abs(datum.value*2 - round(datum.value*2)) < 0.001 ? datum.label : ''","tickSize":{"condition":{"test":"abs(datum.value*2 - round(datum.value*2)) < 0.001","value":-9},"value":-5},"labelPadding":12,"title":"F(k) / barn","titlePadding":14}},
    "detail":{"field":"s"},
    "strokeDash":{"field":"t","type":"nominal","scale":{"domain":["RMC fit","Experiment"],"range":[[10,8],[1,0]]},"legend":{"title":"0 MPM"}}
   }},
  {"data":{"name":"curves"},"transform":[{"filter":"datum.p === 0"}],"mark":{"type":"point","opacity":0},
   "encoding":{
    "x":{"field":"k","type":"quantitative","axis":{"orient":"top","values":[0,1,2,3,4,5,6,7,8,9,10],"labels":false,"title":null,"tickSize":{"condition":{"test":"datum.value % 2 === 0","value":-9},"value":-5}}},
    "y":{"field":"F","type":"quantitative","axis":{"orient":"right","values":[-0.5,-0.25,0,0.25,0.5,0.75,1,1.25,1.5,1.75,2,2.25,2.5,2.75,3,3.25,3.5],"labels":false,"title":null,"tickSize":{"condition":{"test":"abs(datum.value*2 - round(datum.value*2)) < 0.001","value":-9},"value":-5}}}
   }},
  {"data":{"name":"labels"},"transform":[{"filter":"datum.p === 0"}],"mark":{"type":"text","align":"right","fontStyle":"italic","dx":-3},
   "encoding":{"x":{"field":"k","type":"quantitative","axis":null},"y":{"field":"F","type":"quantitative","axis":null},"text":{"field":"it"}}},
  {"data":{"name":"labels"},"transform":[{"filter":"datum.p === 0"}],"mark":{"type":"text","align":"left","dx":3},
   "encoding":{"x":{"field":"k","type":"quantitative","axis":null},"y":{"field":"F","type":"quantitative","axis":null},"text":{"field":"up"}}}
 ]}
]
}
